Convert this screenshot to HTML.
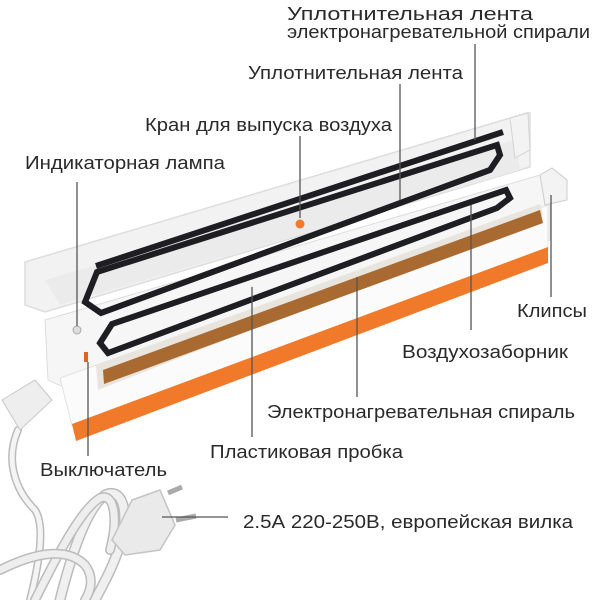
<!DOCTYPE html>
<html><head><meta charset="utf-8"><style>
html,body{margin:0;padding:0;background:#fff;}
svg{display:block;}
text{font-family:"Liberation Sans","DejaVu Sans",sans-serif;font-size:18px;fill:#2a2a2a;}
</style></head><body>
<svg width="600" height="600" viewBox="0 0 600 600" xmlns="http://www.w3.org/2000/svg">
<!-- cord -->
<g fill="none" stroke-linecap="round">
<path d="M18,430 C5,460 15,490 35,510 C45,525 40,560 30,600" stroke="#bbb" stroke-width="8"/>
<path d="M18,430 C5,460 15,490 35,510 C45,525 40,560 30,600" stroke="#f4f4f4" stroke-width="5"/>
<path d="M60,600 C70,560 85,510 105,495 C122,487 130,510 120,545 C112,570 100,590 95,600" stroke="#bbb" stroke-width="11"/>
<path d="M60,600 C70,560 85,510 105,495 C122,487 130,510 120,545 C112,570 100,590 95,600" stroke="#f0f0f0" stroke-width="8"/>
<path d="M35,600 C55,560 80,510 100,498 C115,492 118,520 110,550" stroke="#bbb" stroke-width="10"/>
<path d="M35,600 C55,560 80,510 100,498 C115,492 118,520 110,550" stroke="#eee" stroke-width="7"/>
<path d="M0,570 C30,555 65,545 85,565 C95,578 90,592 85,600" stroke="#bbb" stroke-width="10"/>
<path d="M0,570 C30,555 65,545 85,565 C95,578 90,592 85,600" stroke="#eee" stroke-width="7"/>
</g>
<!-- plug -->
<polygon points="132,500 160,490 175,525 160,550 125,555 112,540" fill="#eaeaea" stroke="#c4c4c4" stroke-width="1.5"/>
<line x1="168" y1="493" x2="182" y2="487" stroke="#aaa" stroke-width="5"/>
<line x1="176" y1="520" x2="196" y2="516" stroke="#aaa" stroke-width="5"/>
<!-- small connector at left end -->
<polygon points="2,400 35,380 52,400 20,430" fill="#eee" stroke="#c8c8c8"/>
<!-- lid -->
<polygon points="25,262 527,113 530,113 530,167 45,312 25,305" fill="#f2f2f2" stroke="#ddd" stroke-width="1.5"/>
<polygon points="45,280 515,140 520,170 60,305" fill="#ebebeb"/>
<!-- base -->
<polygon points="45,320 540,175 550,205 550,240 70,390 48,380" fill="#f6f6f6" stroke="#ddd"/>
<polygon points="60,378 548,205 548,250 72,426" fill="#fbfbfb" stroke="#e2e2e2"/>
<polygon points="72,424 548,247 548,263 76,441" fill="#f07a2a"/>
<!-- channel -->
<polygon points="96,365 540,204 543,215 98,390" fill="#e8e4de"/>
<polygon points="103,370 540,210 543,223 104,384" fill="#a86a30"/>
<!-- clips -->
<polygon points="540,175 552,168 567,180 567,200 545,205" fill="#f3f3f3" stroke="#ccc"/>
<polygon points="510,118 528,113 530,150 515,158" fill="#f3f3f3" stroke="#d4d4d4"/>
<!-- gaskets -->
<g fill="none" stroke="#1e1e22" stroke-width="6" stroke-linejoin="miter">
<polygon points="85,302 97,272 497,145 500,155 490,170 101,313"/>
<line x1="96" y1="266" x2="503" y2="132"/>
<polygon points="100,343 112,324 506,190 510,198 497,208 108,353"/>
</g>
<circle cx="300" cy="224" r="4.5" fill="#f07a2a"/>
<rect x="84" y="352" width="4" height="10" fill="#e86020"/>
<circle cx="77" cy="330" r="4" fill="#ddd" stroke="#aaa"/>
<!-- leaders -->
<g stroke="#555" stroke-width="1.3">
<line x1="475" y1="44" x2="475" y2="140"/>
<line x1="400" y1="84" x2="400" y2="200"/>
<line x1="300" y1="136" x2="300" y2="218"/>
<line x1="77" y1="182" x2="77" y2="326"/>
<line x1="551" y1="195" x2="551" y2="297"/>
<line x1="471" y1="205" x2="471" y2="330"/>
<line x1="357" y1="277" x2="357" y2="397"/>
<line x1="252" y1="287" x2="252" y2="437"/>
<line x1="88" y1="362" x2="88" y2="456"/>
<line x1="162" y1="517" x2="228" y2="517"/>
</g>
<!-- labels -->
<text x="287" y="20" textLength="246" lengthAdjust="spacingAndGlyphs">Уплотнительная лента</text>
<text x="287" y="38" textLength="303" lengthAdjust="spacingAndGlyphs">электронагревательной спирали</text>
<text x="248" y="79" textLength="215" lengthAdjust="spacingAndGlyphs">Уплотнительная лента</text>
<text x="145" y="131" textLength="247" lengthAdjust="spacingAndGlyphs">Кран для выпуска воздуха</text>
<text x="25" y="169" textLength="200" lengthAdjust="spacingAndGlyphs">Индикаторная лампа</text>
<text x="517" y="317" textLength="70" lengthAdjust="spacingAndGlyphs">Клипсы</text>
<text x="402" y="358" textLength="166" lengthAdjust="spacingAndGlyphs">Воздухозаборник</text>
<text x="267" y="418" textLength="308" lengthAdjust="spacingAndGlyphs">Электронагревательная спираль</text>
<text x="210" y="458" textLength="193" lengthAdjust="spacingAndGlyphs">Пластиковая пробка</text>
<text x="40" y="476" textLength="127" lengthAdjust="spacingAndGlyphs">Выключатель</text>
<text x="243" y="528" textLength="330" lengthAdjust="spacingAndGlyphs">2.5А 220-250В, европейская вилка</text>
</svg>
</body></html>
